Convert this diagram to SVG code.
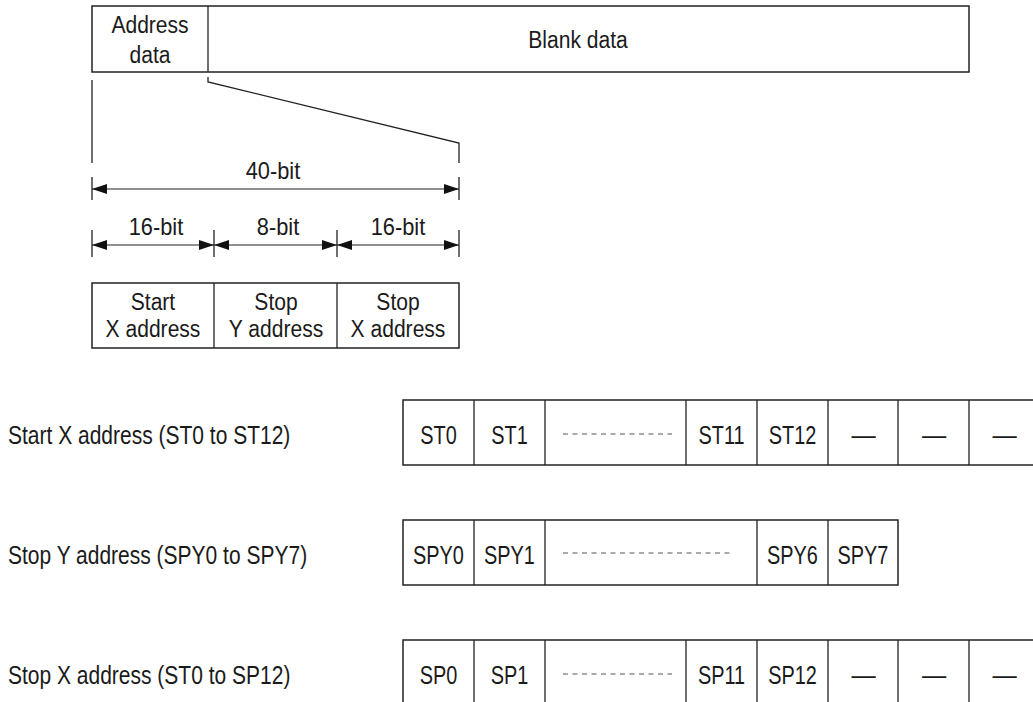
<svg xmlns="http://www.w3.org/2000/svg" width="1033" height="702" viewBox="0 0 1033 702">
<style>
  .bx{fill:#fff;stroke:#222;stroke-width:1.5}
  .ln{fill:none;stroke:#222;stroke-width:1.3}
  .dim{fill:none;stroke:#222;stroke-width:1.2}
  .dash{fill:none;stroke:#555;stroke-width:1;stroke-dasharray:5 4.5}
  text{font-family:"Liberation Sans",Arial,sans-serif;fill:#1a1a1a;text-anchor:middle;font-size:24.5px}
  .c{font-size:25.5px}
  .lbl{font-size:25px;text-anchor:start}
</style>
<defs>
  <marker id="ah" viewBox="0 0 15 10" refX="15" refY="5" markerWidth="15" markerHeight="10" markerUnits="userSpaceOnUse" orient="auto-start-reverse">
    <path d="M0,0 L15,5 L0,10 z" fill="#111"/>
  </marker>
</defs>

<g id="frame">
  <rect class="bx" x="92" y="6" width="877" height="66"/>
  <line class="ln" x1="208" y1="6" x2="208" y2="72"/>
  <text transform="translate(150,33) scale(0.86,1)">Address</text>
  <text transform="translate(150,63) scale(0.86,1)">data</text>
  <text transform="translate(578,48) scale(0.86,1)">Blank data</text>
</g>

<g id="connectors">
  <line class="ln" x1="92" y1="80" x2="92" y2="163"/>
  <path class="ln" d="M208,77 V82 L459,143 V163"/>
  <line class="ln" x1="92" y1="177" x2="92" y2="200"/>
  <line class="ln" x1="459" y1="177" x2="459" y2="200"/>
  <line class="dim" x1="92" y1="189" x2="459" y2="189" marker-start="url(#ah)" marker-end="url(#ah)"/>
  <line class="ln" x1="92" y1="230" x2="92" y2="257"/>
  <line class="ln" x1="214" y1="230" x2="214" y2="257"/>
  <line class="ln" x1="337" y1="230" x2="337" y2="257"/>
  <line class="ln" x1="459" y1="230" x2="459" y2="257"/>
  <line class="dim" x1="92" y1="245" x2="214" y2="245" marker-start="url(#ah)" marker-end="url(#ah)"/>
  <line class="dim" x1="214" y1="245" x2="337" y2="245" marker-start="url(#ah)" marker-end="url(#ah)"/>
  <line class="dim" x1="337" y1="245" x2="459" y2="245" marker-start="url(#ah)" marker-end="url(#ah)"/>
</g>

<g id="dim-labels">
  <text transform="translate(273,179) scale(0.89,1)">40-bit</text>
  <text transform="translate(156,235) scale(0.89,1)">16-bit</text>
  <text transform="translate(278,235) scale(0.89,1)">8-bit</text>
  <text transform="translate(398,235) scale(0.89,1)">16-bit</text>
</g>

<g id="fields">
  <rect class="bx" x="92" y="283" width="367" height="65"/>
  <line class="ln" x1="214" y1="283" x2="214" y2="348"/>
  <line class="ln" x1="337" y1="283" x2="337" y2="348"/>
  <text transform="translate(153,310) scale(0.86,1)">Start</text>
  <text transform="translate(153,337) scale(0.86,1)">X address</text>
  <text transform="translate(276,310) scale(0.86,1)">Stop</text>
  <text transform="translate(276,337) scale(0.86,1)">Y address</text>
  <text transform="translate(398,310) scale(0.86,1)">Stop</text>
  <text transform="translate(398,337) scale(0.86,1)">X address</text>
</g>

<g id="row-start-x">
  <text class="lbl" transform="translate(8,444) scale(0.84,1)">Start X address (ST0 to ST12)</text>
  <rect class="bx" x="403" y="400" width="640" height="65"/>
  <path class="ln" d="M474,400V465M545,400V465M686,400V465M757,400V465M828,400V465M898,400V465M969,400V465"/>
  <line class="dash" x1="563" y1="434" x2="672" y2="434"/>
  <text class="c" transform="translate(438.5,444) scale(0.78,1)">ST0</text>
  <text class="c" transform="translate(509.5,444) scale(0.78,1)">ST1</text>
  <text class="c" transform="translate(721.5,444) scale(0.78,1)">ST11</text>
  <text class="c" transform="translate(792.5,444) scale(0.78,1)">ST12</text>
  <text class="c" transform="translate(863.5,444) scale(0.95,1)">—</text>
  <text class="c" transform="translate(934,444) scale(0.95,1)">—</text>
  <text class="c" transform="translate(1004.5,444) scale(0.95,1)">—</text>
</g>

<g id="row-stop-y">
  <text class="lbl" transform="translate(8,564) scale(0.84,1)">Stop Y address (SPY0 to SPY7)</text>
  <rect class="bx" x="403" y="520" width="495" height="65"/>
  <path class="ln" d="M474,520V585M545,520V585M757,520V585M828,520V585"/>
  <line class="dash" x1="563" y1="553" x2="730" y2="553"/>
  <text class="c" transform="translate(438.5,564) scale(0.78,1)">SPY0</text>
  <text class="c" transform="translate(509.5,564) scale(0.78,1)">SPY1</text>
  <text class="c" transform="translate(792.5,564) scale(0.78,1)">SPY6</text>
  <text class="c" transform="translate(863,564) scale(0.78,1)">SPY7</text>
</g>

<g id="row-stop-x">
  <text class="lbl" transform="translate(8,684) scale(0.84,1)">Stop X address (ST0 to SP12)</text>
  <rect class="bx" x="403" y="640" width="640" height="65"/>
  <path class="ln" d="M474,640V705M545,640V705M686,640V705M757,640V705M828,640V705M898,640V705M969,640V705"/>
  <line class="dash" x1="563" y1="674" x2="672" y2="674"/>
  <text class="c" transform="translate(438.5,684) scale(0.78,1)">SP0</text>
  <text class="c" transform="translate(509.5,684) scale(0.78,1)">SP1</text>
  <text class="c" transform="translate(721.5,684) scale(0.78,1)">SP11</text>
  <text class="c" transform="translate(792.5,684) scale(0.78,1)">SP12</text>
  <text class="c" transform="translate(863.5,684) scale(0.95,1)">—</text>
  <text class="c" transform="translate(934,684) scale(0.95,1)">—</text>
  <text class="c" transform="translate(1004.5,684) scale(0.95,1)">—</text>
</g>
</svg>
